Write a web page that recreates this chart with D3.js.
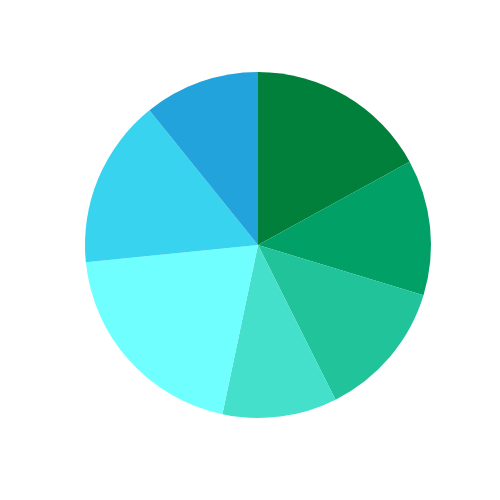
<!DOCTYPE html>
<html>
<head>
<meta charset="utf-8">
<script src="https://cdn.jsdelivr.net/npm/d3@7"></script>
<style>
  body { margin: 0; background: #fff; }
</style>
</head>
<body>
<div class="pie-container"></div>
<script>
var w = 500;
var h = 500;

// slices, clockwise from 12 o'clock
var categories = ["A", "B", "C", "D", "E", "F", "G"];
var values = [17.0, 12.7, 12.9, 10.7, 20.1, 15.8, 10.8];
var colors = ["#00803a", "#00a067", "#20c39a", "#44e0cc", "#6fffff", "#38d3ee", "#22a3db"];

var data = categories.map(function(c, i) {
  return { name: c, value: values[i] };
});

var svg = d3.select(".pie-container")
    .append("svg")
    .attr("width", w)
    .attr("height", h);

var color = d3.scaleOrdinal()
    .domain(categories)
    .range(colors);

var pie = d3.pie()
    .sort(null)
    .value(function(d) { return d.value; });

var arc = d3.arc()
    .innerRadius(0)
    .outerRadius(173);

var g = svg.append("g")
    .attr("transform", "translate(258,245)");

g.selectAll("path")
    .data(pie(data))
    .enter()
    .append("path")
    .attr("d", arc)
    .style("fill", function(d) { return color(d.data.name); });
</script>
</body>
</html>
